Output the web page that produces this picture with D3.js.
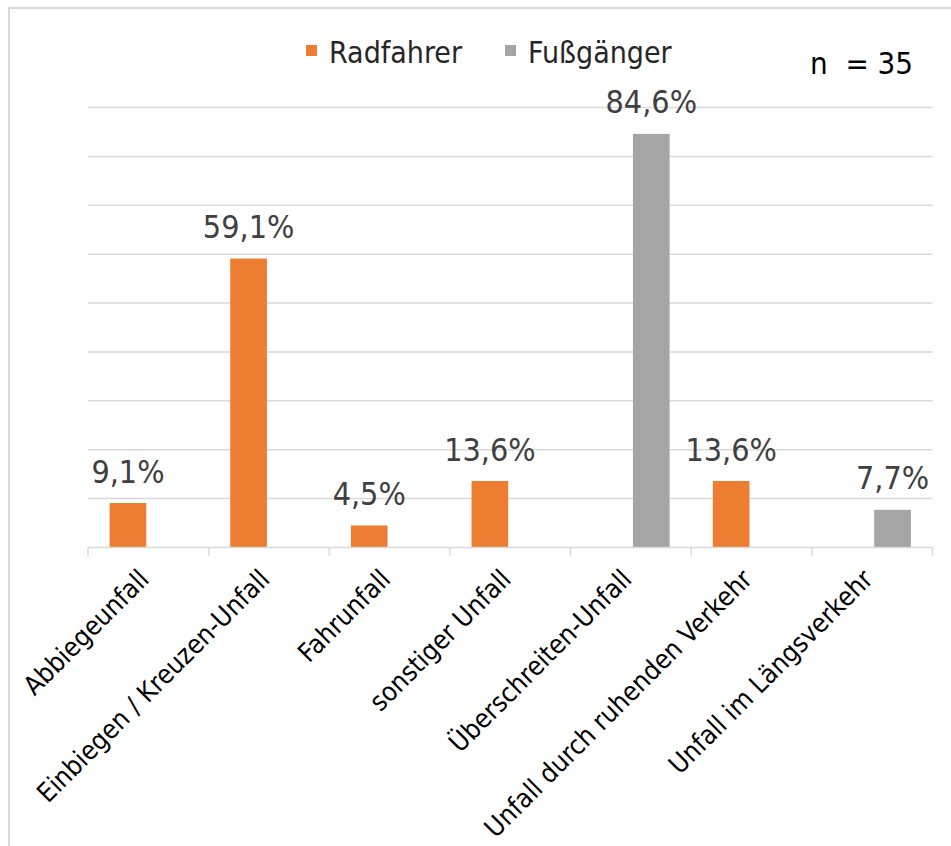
<!DOCTYPE html>
<html>
<head>
<meta charset="utf-8">
<script src="https://cdn.jsdelivr.net/npm/d3@7"></script>
<style>
  body { margin: 0; background: #fff; }
  text { font-family: 'DejaVu Sans Condensed', 'DejaVu Sans', sans-serif; font-stretch: condensed; }
</style>
</head>
<body>
<div id="container"></div>
<script>
const width = 951;
const height = 846;

const categories = ['Abbiegeunfall', 'Einbiegen / Kreuzen-Unfall', 'Fahrunfall', 'sonstiger Unfall',
                    'Überschreiten-Unfall', 'Unfall durch ruhenden Verkehr', 'Unfall im Längsverkehr'];
const seriesNames = ['Radfahrer', 'Fußgänger'];
const radfahrer = [9.1, 59.1, 4.5, 13.6, null, 13.6, null];
const fussgaenger = [null, null, null, null, 84.6, null, 7.7];
const yTicks = [0, 10, 20, 30, 40, 50, 60, 70, 80, 90];
const colors = ['#ED7D31', '#A5A5A5'];

const svg = d3.select('#container')
                .append('svg')
                .attr('width', width)
                .attr('height', height)
                .style('display', 'block')
                .style('background-color', '#fff');

// chart frame (only top + left edge visible in the crop)
svg.append('rect')
    .attr('x', 9)
    .attr('y', 8)
    .attr('width', 1000)
    .attr('height', 1000)
    .attr('fill', 'none')
    .attr('stroke', '#d9d9d9')
    .attr('stroke-width', 2);

const x0 = d3.scaleBand()
            .domain(categories)
            .range([88, 932.5])
            .padding(0);

const x1 = d3.scaleBand()
            .domain(seriesNames)
            .range([0, x0.bandwidth()])
            .paddingInner(0.1)
            .paddingOuter(0.53);

const y = d3.scaleLinear()
            .domain([0, 90])
            .range([547.5, 107.5]);

/* GRID */
svg.append('g')
    .selectAll('line')
    .data(yTicks.slice(1))
    .enter().append('line')
    .attr('x1', 88)
    .attr('x2', 932.5)
    .attr('y1', d => y(d))
    .attr('y2', d => y(d))
    .attr('stroke', '#d9d9d9')
    .attr('stroke-width', 1.5);

/* BARS */
const rows = [];
categories.forEach((c, i) => {
    if (radfahrer[i] != null) rows.push({cat: c, series: 'Radfahrer', value: radfahrer[i]});
    if (fussgaenger[i] != null) rows.push({cat: c, series: 'Fußgänger', value: fussgaenger[i]});
});

svg.append('g')
    .selectAll('rect')
    .data(rows)
    .enter().append('rect')
    .attr('x', d => x0(d.cat) + x1(d.series))
    .attr('y', d => y(d.value))
    .attr('width', x1.bandwidth())
    .attr('height', d => y(0) - y(d.value))
    .attr('fill', d => colors[seriesNames.indexOf(d.series)]);

svg.append('g')
    .selectAll('text')
    .data(rows)
    .enter().append('text')
    .attr('x', d => x0(d.cat) + x1(d.series) + x1.bandwidth() / 2)
    .attr('y', d => y(d.value) - 20.5)
    .attr('text-anchor', 'middle')
    .style('font-size', '32px')
    .attr('fill', '#404040')
    .text(d => d.value.toFixed(1).replace('.', ',') + '%');

/* X AXIS */
const xAxis = svg.append('g')
    .attr('transform', `translate(0, ${y(0)})`);

xAxis.append('line')
    .attr('x1', 88)
    .attr('x2', 932.5)
    .attr('stroke', '#d9d9d9')
    .attr('stroke-width', 1.5);

xAxis.selectAll('.tick')
    .data(categories.concat(['end']))
    .enter().append('line')
    .attr('class', 'tick')
    .attr('x1', (d, i) => i < categories.length ? x0(d) : x0.range()[1])
    .attr('x2', (d, i) => i < categories.length ? x0(d) : x0.range()[1])
    .attr('y1', 0)
    .attr('y2', 8)
    .attr('stroke', '#d9d9d9')
    .attr('stroke-width', 1.5);

xAxis.selectAll('.label')
    .data(categories)
    .enter().append('text')
    .attr('class', 'label')
    .attr('transform', d => `translate(${x0(d) + x0.bandwidth() / 2 - 12}, 19) rotate(-45)`)
    .attr('text-anchor', 'end')
    .attr('dy', '0.76em')
    .style('font-size', '26.5px')
    .attr('fill', '#000')
    .text(d => d);

/* LEGEND */
const legendX = [306, 505];
const legend = svg.append('g');
seriesNames.forEach((s, i) => {
    legend.append('rect')
        .attr('x', legendX[i])
        .attr('y', 45)
        .attr('width', 11)
        .attr('height', 11)
        .attr('fill', colors[i]);
    legend.append('text')
        .attr('x', legendX[i] + 23)
        .attr('y', 62.5)
        .style('font-size', '30px')
        .attr('fill', '#262626')
        .text(s);
});

svg.append('text')
    .attr('x', 810)
    .attr('y', 73.5)
    .style('font-size', '31px')
    .style('white-space', 'pre')
    .attr('fill', '#000')
    .text('n  = 35');
</script>
</body>
</html>
